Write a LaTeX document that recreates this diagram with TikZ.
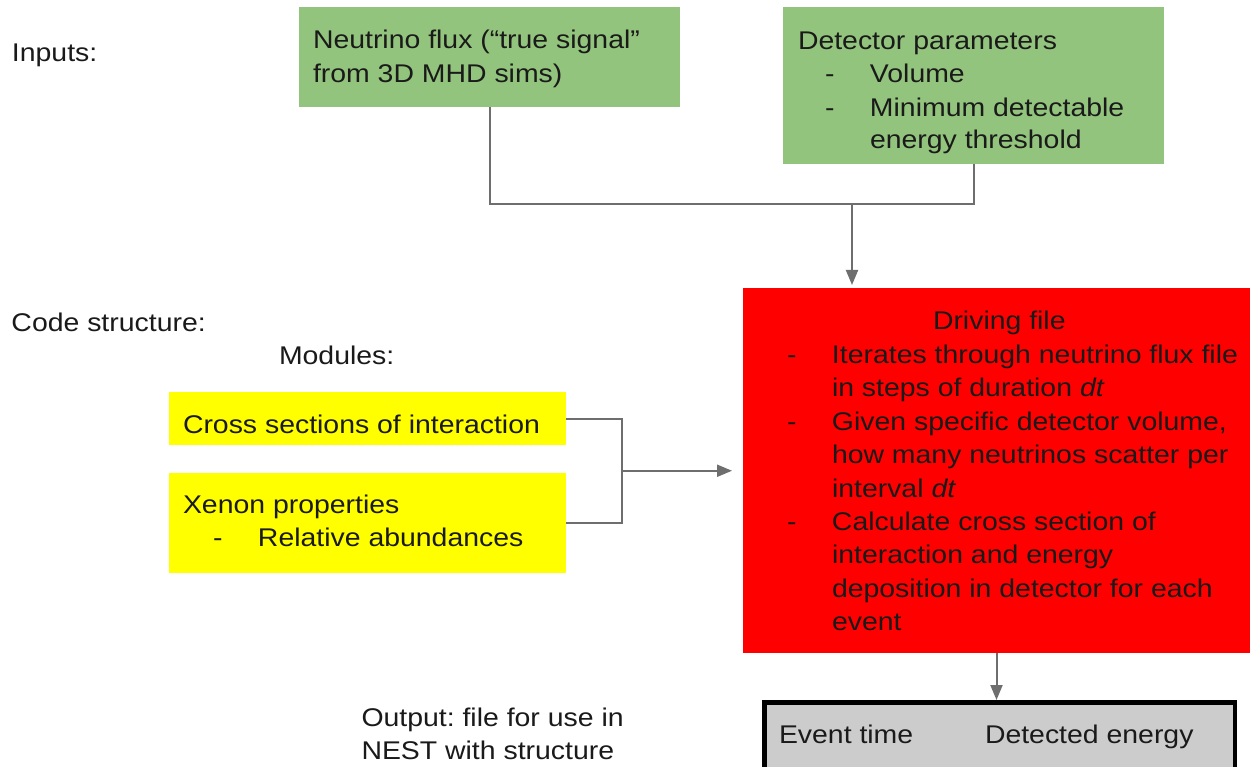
\documentclass[tikz,border=0pt]{standalone}
\usepackage{fontspec}
\setmainfont{Liberation Sans}[FakeStretch=1.11]
\usetikzlibrary{arrows.meta}
\frenchspacing

\definecolor{boxgreen}{HTML}{93C47D}
\definecolor{boxyellow}{HTML}{FFFF00}
\definecolor{boxred}{HTML}{FF0000}
\definecolor{boxgray}{HTML}{CCCCCC}
\definecolor{linkgray}{HTML}{6E6E6E}
\definecolor{ink}{HTML}{1A1A1A}

\tikzset{
  panel/.style 2 args={anchor=north west, inner sep=0pt, outer sep=0pt,
    minimum width=#1, minimum height=#2},
  txt/.style={anchor=base west, inner sep=0pt, outer sep=0pt, text=ink,
    font=\fontsize{25.6pt}{33.4pt}\selectfont},
  link/.style={draw=linkgray, line width=2pt},
  flow/.style={link, -{Triangle[length=15pt,width=12pt]}},
}
\newcommand\dashitem{\makebox[45pt][l]{-}}

\begin{document}
\begin{tikzpicture}[x=1pt,y=-1pt]
  \path[use as bounding box, fill=white] (0,0) rectangle (1250,767);

  % section labels
  \node[txt] (lblinputs) at (12,62) {Inputs:};
  \node[txt] (lblcode) at (11.5,331.5) {Code structure:};
  \node[txt] (lblmodules) at (279,364) {Modules:};
  \node[txt] (lbloutA) at (361.5,726) {Output: file for use in};
  \node[txt] (lbloutB) at (361.5,759.4) {NEST with structure};

  % input boxes
  \node[panel={381pt}{100pt}, fill=boxgreen] (flux) at (299,7) {};
  \node[txt] (fluxA) at (313,49) {Neutrino flux (“true signal”};
  \node[txt] (fluxB) at (313,82.4) {from 3D MHD sims)};

  \node[panel={381pt}{157pt}, fill=boxgreen] (det) at (783,7) {};
  \node[txt] (detA) at (798,50) {Detector parameters};
  \node[txt] (detB) at (825,83) {\dashitem Volume};
  \node[txt] (detC) at (825,116.2) {\dashitem Minimum detectable};
  \node[txt] (detD) at (870,148.5) {energy threshold};

  % module boxes
  \node[panel={397pt}{53pt}, fill=boxyellow] (xs) at (169,392) {};
  \node[txt] (xsA) at (183,433) {Cross sections of interaction};

  \node[panel={397pt}{100pt}, fill=boxyellow] (xe) at (169,473) {};
  \node[txt] (xeA) at (183,513.3) {Xenon properties};
  \node[txt] (xeB) at (213,546.7) {\dashitem Relative abundances};

  % driving file
  \node[panel={507pt}{365pt}, fill=boxred] (drive) at (743,288) {};
  \node[txt] (drA) at (933,330) {Driving file};
  \node[txt] (drB) at (787,363.4) {\dashitem Iterates through neutrino flux file};
  \node[txt] (drC) at (832,396.8) {in steps of duration \textit{dt}};
  \node[txt] (drD) at (787,430.2) {\dashitem Given specific detector volume,};
  \node[txt] (drE) at (832,463.6) {how many neutrinos scatter per};
  \node[txt] (drF) at (832,497) {interval \textit{dt}};
  \node[txt] (drG) at (787,530.4) {\dashitem Calculate cross section of};
  \node[txt] (drH) at (832,563.8) {interaction and energy};
  \node[txt] (drI) at (832,597.2) {deposition in detector for each};
  \node[txt] (drJ) at (832,630.6) {event};

  % output table
  \node[panel={470.5pt}{100pt}, outer sep=2.25pt, fill=boxgray, draw=black,
        line width=4.5pt] (out) at (762,700) {};
  \node[txt] (outA) at (779,743.5) {Event time};
  \node[txt] (outB) at (985,743.5) {Detected energy};

  % connectors
  \coordinate (topjoin) at (852,204);
  \draw[link] (flux.south) -- (flux.south |- topjoin)
              -- (det.south |- topjoin) -- (det.south);
  \draw[flow, shorten >=3pt] (topjoin) -- (topjoin |- drive.north);

  \coordinate (modjoin) at (622,470.75);
  \draw[link] (xs.east) -- (xs.east -| modjoin)
              -- (xe.east -| modjoin) -- (xe.east);
  \draw[flow, shorten >=11pt] (modjoin) -- (modjoin -| drive.west);

  \draw[flow] (drive.south) -- (drive.south |- out.north);
\end{tikzpicture}
\end{document}
